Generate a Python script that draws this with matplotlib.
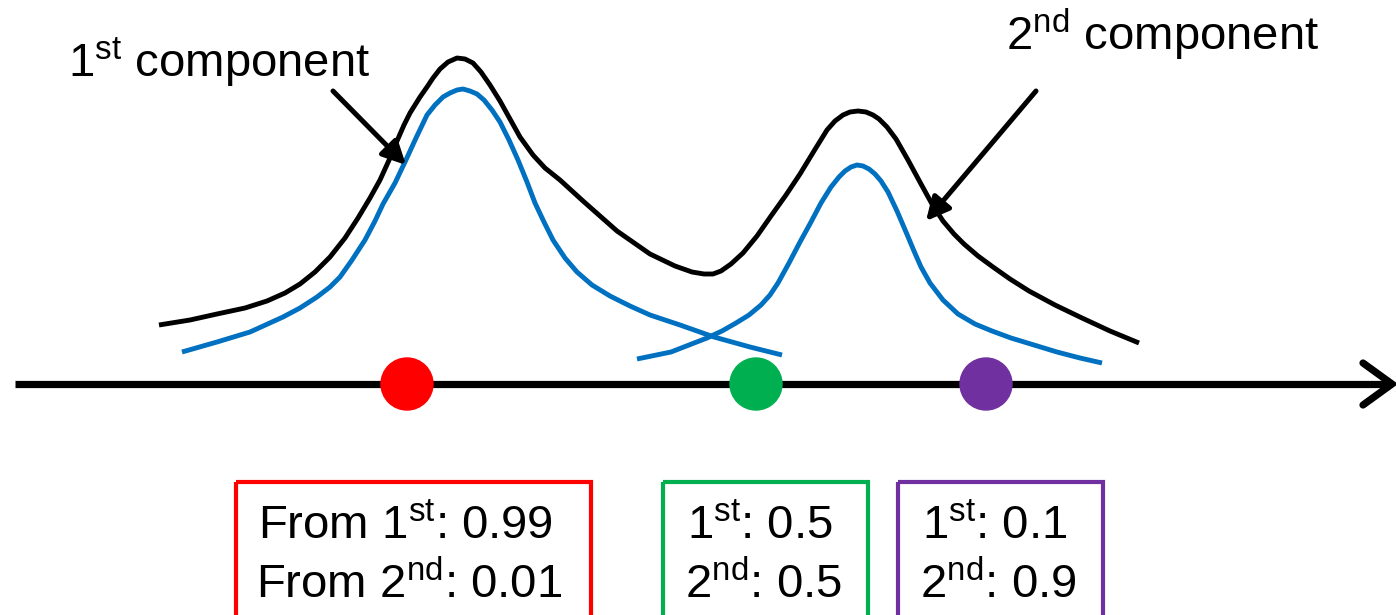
import matplotlib
matplotlib.use("Agg")
import matplotlib.pyplot as plt
from matplotlib.patches import Circle, Rectangle

plt.rcParams['font.family'] = ['Liberation Sans', 'DejaVu Sans']
plt.rcParams['mathtext.fontset'] = 'custom'
plt.rcParams['mathtext.rm'] = 'Liberation Sans'
plt.rcParams['mathtext.it'] = 'Liberation Sans:italic'

# ---- data (pixel-like coordinates, y downwards) ----
mixture_x = [159, 190, 217, 245, 267, 285, 300, 315, 330, 345, 358, 370, 380, 390, 397, 404,
             410, 420, 427, 433, 440, 448, 457, 465, 473, 481, 490, 500, 510, 520, 533, 545,
             560, 583, 617, 650, 675, 692, 704, 713, 721, 731, 743, 757, 771, 786, 800, 814,
             827, 835, 843, 850, 858, 866, 873, 879, 887, 896, 908, 921, 932, 943, 954, 964,
             978, 993, 1010, 1029, 1055, 1082, 1110, 1139]
mixture_y = [325, 320, 314, 308, 301, 293, 284, 272, 257, 238, 218, 198, 180, 158, 141, 125,
             113, 97, 87, 78, 69, 62, 58, 59, 63, 72, 85, 101, 119, 137, 155, 168,
             180, 201, 231, 254, 266, 272, 274, 274, 271, 264, 253, 236, 216, 195, 174, 151,
             130, 121, 115, 112, 111, 112, 115, 119, 127, 139, 160, 184, 204, 221, 234, 244,
             256, 267, 279, 291, 305, 318, 331, 343]

comp1_x = [182, 217, 250, 283, 300, 317, 330, 340, 352, 365, 375, 383, 395, 405, 416, 427,
           435, 443, 450, 457, 463, 470, 477, 484, 492, 500, 509, 518, 527, 535, 544, 553,
           565, 577, 592, 610, 630, 650, 680, 714, 750, 782]
comp1_y = [352, 342, 332, 317, 308, 297, 287, 277, 260, 240, 221, 204, 183, 162, 138, 115,
           105, 97, 93, 90, 89, 91, 94, 100, 110, 122, 140, 160, 182, 203, 222, 240,
           258, 272, 285, 296, 306, 315, 325, 337, 347, 355]

comp2_x = [637, 671, 707, 722, 736, 749, 761, 770, 778, 789, 800, 811, 821, 831, 839, 845,
           851, 857, 863, 869, 875, 881, 888, 897, 906, 914, 921, 930, 943, 958, 975, 992,
           1011, 1034, 1057, 1080, 1102]
comp2_y = [359, 352, 338, 331, 323, 315, 305, 295, 283, 263, 242, 222, 203, 187, 177, 171,
           167, 165, 166, 169, 174, 181, 192, 211, 232, 251, 267, 283, 300, 314, 324, 331,
           338, 345, 352, 358, 363]

point_x = [407, 756, 986]
point_colors = ['#FF0000', '#00B050', '#7030A0']

resp_first = ['0.99', '0.5', '0.1']
resp_second = ['0.01', '0.5', '0.9']
resp_prefix = ['From ', '', '']

# ---- figure ----
W, H = 1396, 615
fig = plt.figure(figsize=(W / 100, H / 100), dpi=100)
ax = fig.add_axes([0, 0, 1, 1])
ax.set_xlim(0, W)
ax.set_ylim(H, 0)
ax.axis('off')

axis_y = 384
# horizontal axis with open arrow head
ax.plot([15, 1388], [axis_y, axis_y], color='black', lw=5.2, solid_capstyle='butt', zorder=2)
ax.plot([1363, 1392, 1363], [axis_y - 21, axis_y, axis_y + 21], color='black', lw=5.2,
        solid_capstyle='round', solid_joinstyle='miter', zorder=2)

# curves
curve_kw = dict(lw=3.5, solid_joinstyle='round', solid_capstyle='butt', zorder=3)
ax.plot(mixture_x, mixture_y, color='black', **curve_kw)
ax.plot(comp1_x, comp1_y, color='#0070C0', **curve_kw)
ax.plot(comp2_x, comp2_y, color='#0070C0', **curve_kw)

# data points
for px, c in zip(point_x, point_colors):
    ax.add_patch(Circle((px, axis_y), 26, color=c, zorder=4))

# component labels and arrows
fs = 34
ax.text(68, 77, r'1$^{\mathrm{st}}$ component', fontsize=fs, ha='left', va='baseline')
ax.text(1006, 50, r'2$^{\mathrm{nd}}$ component', fontsize=fs, ha='left', va='baseline')

arrow_kw = dict(arrowstyle='-|>,head_length=14,head_width=7', color='black', lw=3.6,
                shrinkA=0, shrinkB=0, mutation_scale=1)
ax.annotate('', xy=(406, 165), xytext=(333, 91), arrowprops=arrow_kw, zorder=5)
ax.annotate('', xy=(926, 221), xytext=(1036, 91), arrowprops=arrow_kw, zorder=5)

# responsibility boxes
box_left = [236, 663, 898]
box_right = [591, 868, 1103]
text_left = [258, 687, 922]
for i in range(3):
    ax.add_patch(Rectangle((box_left[i], 482), box_right[i] - box_left[i], 160,
                           fill=False, edgecolor=point_colors[i], lw=3.0, zorder=3,
                           clip_on=True))
    ax.text(text_left[i], 539, resp_prefix[i] + r'1$^{\mathrm{st}}$: ' + resp_first[i],
            fontsize=fs, ha='left', va='baseline')
    ax.text(text_left[i] - 2, 598, resp_prefix[i] + r'2$^{\mathrm{nd}}$: ' + resp_second[i],
            fontsize=fs, ha='left', va='baseline')

fig.savefig('out.png', dpi=100, facecolor='white')
